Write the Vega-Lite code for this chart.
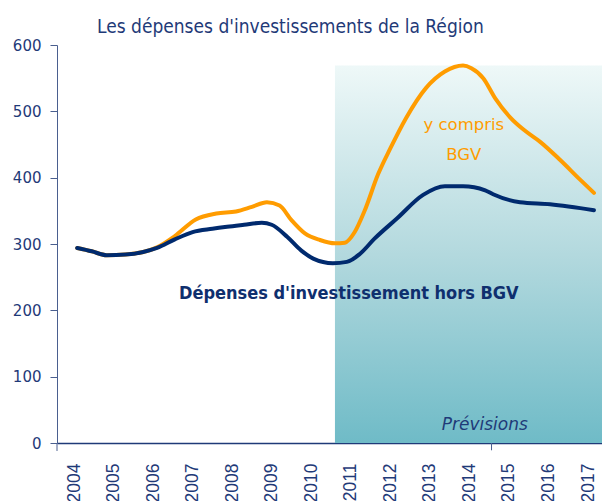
{
  "$schema": "https://vega.github.io/schema/vega-lite/v6.json",
  "width": 545,
  "height": 398,
  "autosize": "none",
  "padding": {"left": 57, "top": 45, "right": 0, "bottom": 58},
  "background": "white",
  "config": {"view": {"stroke": null}},
  "title": {
    "text": "Les dépenses d'investissements de la Région",
    "anchor": "start",
    "frame": "group",
    "dx": 40,
    "offset": 1,
    "font": "DejaVu Sans Condensed",
    "fontSize": 19,
    "fontWeight": "normal",
    "color": "#1f3a78"
  },
  "datasets": {
    "zone": [{"x": 2010.6, "x2": 2017.354, "y": 0, "y2": 569}],
    "marks": [
      {"x": 2014.56, "y": 0, "y2": -11},
      {"x": 2003.57, "y": 0, "y2": -12}
    ],
    "series": [
      {"annee": 2004.08, "v": 294, "serie": "y compris BGV"},
      {"annee": 2004.45, "v": 289, "serie": "y compris BGV"},
      {"annee": 2004.83, "v": 283, "serie": "y compris BGV"},
      {"annee": 2005.3, "v": 284, "serie": "y compris BGV"},
      {"annee": 2005.75, "v": 288, "serie": "y compris BGV"},
      {"annee": 2006.1, "v": 295, "serie": "y compris BGV"},
      {"annee": 2006.55, "v": 312, "serie": "y compris BGV"},
      {"annee": 2007.08, "v": 337, "serie": "y compris BGV"},
      {"annee": 2007.6, "v": 346, "serie": "y compris BGV"},
      {"annee": 2008.1, "v": 349, "serie": "y compris BGV"},
      {"annee": 2008.5, "v": 356, "serie": "y compris BGV"},
      {"annee": 2008.88, "v": 363, "serie": "y compris BGV"},
      {"annee": 2009.2, "v": 358, "serie": "y compris BGV"},
      {"annee": 2009.5, "v": 336, "serie": "y compris BGV"},
      {"annee": 2009.84, "v": 316, "serie": "y compris BGV"},
      {"annee": 2010.22, "v": 306, "serie": "y compris BGV"},
      {"annee": 2010.6, "v": 301, "serie": "y compris BGV"},
      {"annee": 2010.85, "v": 302, "serie": "y compris BGV"},
      {"annee": 2011.1, "v": 318, "serie": "y compris BGV"},
      {"annee": 2011.35, "v": 350, "serie": "y compris BGV"},
      {"annee": 2011.69, "v": 405, "serie": "y compris BGV"},
      {"annee": 2012.0, "v": 444, "serie": "y compris BGV"},
      {"annee": 2012.4, "v": 490, "serie": "y compris BGV"},
      {"annee": 2012.9, "v": 535, "serie": "y compris BGV"},
      {"annee": 2013.38, "v": 560, "serie": "y compris BGV"},
      {"annee": 2013.84, "v": 569, "serie": "y compris BGV"},
      {"annee": 2014.05, "v": 565, "serie": "y compris BGV"},
      {"annee": 2014.35, "v": 550, "serie": "y compris BGV"},
      {"annee": 2014.65, "v": 520, "serie": "y compris BGV"},
      {"annee": 2015.03, "v": 491, "serie": "y compris BGV"},
      {"annee": 2015.4, "v": 471, "serie": "y compris BGV"},
      {"annee": 2015.79, "v": 454, "serie": "y compris BGV"},
      {"annee": 2016.29, "v": 427, "serie": "y compris BGV"},
      {"annee": 2016.8, "v": 397, "serie": "y compris BGV"},
      {"annee": 2017.15, "v": 377, "serie": "y compris BGV"},
      {"annee": 2004.08, "v": 294, "serie": "hors BGV"},
      {"annee": 2004.45, "v": 289, "serie": "hors BGV"},
      {"annee": 2004.83, "v": 283, "serie": "hors BGV"},
      {"annee": 2005.3, "v": 284, "serie": "hors BGV"},
      {"annee": 2005.75, "v": 288, "serie": "hors BGV"},
      {"annee": 2006.1, "v": 294, "serie": "hors BGV"},
      {"annee": 2006.55, "v": 307, "serie": "hors BGV"},
      {"annee": 2007.0, "v": 318, "serie": "hors BGV"},
      {"annee": 2007.5, "v": 323, "serie": "hors BGV"},
      {"annee": 2007.87, "v": 326, "serie": "hors BGV"},
      {"annee": 2008.3, "v": 329, "serie": "hors BGV"},
      {"annee": 2008.75, "v": 332, "serie": "hors BGV"},
      {"annee": 2009.0, "v": 329, "serie": "hors BGV"},
      {"annee": 2009.39, "v": 311, "serie": "hors BGV"},
      {"annee": 2009.75, "v": 290, "serie": "hors BGV"},
      {"annee": 2010.05, "v": 278, "serie": "hors BGV"},
      {"annee": 2010.55, "v": 271, "serie": "hors BGV"},
      {"annee": 2010.9, "v": 273, "serie": "hors BGV"},
      {"annee": 2011.23, "v": 285, "serie": "hors BGV"},
      {"annee": 2011.6, "v": 308, "serie": "hors BGV"},
      {"annee": 2012.16, "v": 338, "serie": "hors BGV"},
      {"annee": 2012.83, "v": 374, "serie": "hors BGV"},
      {"annee": 2013.38, "v": 387, "serie": "hors BGV"},
      {"annee": 2013.84, "v": 387, "serie": "hors BGV"},
      {"annee": 2014.4, "v": 381, "serie": "hors BGV"},
      {"annee": 2014.6, "v": 375, "serie": "hors BGV"},
      {"annee": 2015.28, "v": 363, "serie": "hors BGV"},
      {"annee": 2016.04, "v": 360, "serie": "hors BGV"},
      {"annee": 2017.15, "v": 351, "serie": "hors BGV"}
    ],
    "orangeLabels": [
      {"x": 2013.86, "y": 479, "t": "y compris"},
      {"x": 2013.86, "y": 434, "t": "BGV"}
    ],
    "navyLabels": [
      {"x": 2010.95, "y": 225, "t": "Dépenses d'investissement hors BGV"}
    ],
    "prev": [{"x": 2014.39, "y": 27, "t": "Prévisions"}]
  },
  "layer": [
    {
      "data": {"name": "zone"},
      "mark": {
        "type": "rect",
        "fill": {
          "gradient": "linear",
          "x1": 0, "y1": 0, "x2": 0, "y2": 1,
          "stops": [
            {"offset": 0, "color": "#eef8f8"},
            {"offset": 0.5, "color": "#b3d9de"},
            {"offset": 1, "color": "#6fbbc7"}
          ]
        }
      },
      "encoding": {
        "x": {
          "field": "x", "type": "quantitative",
          "scale": {"domain": [2003.57, 2017.354], "nice": false, "zero": false},
          "axis": {
            "values": [2004, 2005, 2006, 2007, 2008, 2009, 2010, 2011, 2012, 2013, 2014, 2015, 2016, 2017],
            "format": "d",
            "title": null,
            "labelAngle": -90,
            "labelAlign": "right",
            "labelBaseline": "middle",
            "labelFont": "Liberation Sans",
            "labelFontSize": 17.5,
            "labelColor": "#1f3a78",
            "labelPadding": 20,
            "ticks": false,
            "grid": false,
            "domainColor": "#1f3a78",
            "domainWidth": 1.5
          }
        },
        "x2": {"field": "x2"},
        "y": {
          "field": "y", "type": "quantitative",
          "scale": {"domain": [0, 600], "nice": false},
          "axis": {
            "values": [0, 100, 200, 300, 400, 500, 600],
            "title": null,
            "labelFont": "DejaVu Sans",
            "labelFontSize": 15,
            "labelColor": "#1f3a78",
            "labelPadding": 9,
            "tickSize": 7,
            "tickColor": "#4a5f8f",
            "domainColor": "#4a5f8f",
            "grid": false
          }
        },
        "y2": {"field": "y2"}
      }
    },
    {
      "data": {"name": "marks"},
      "mark": {"type": "rule", "color": "#4a5f8f", "strokeWidth": 1},
      "encoding": {
        "x": {"field": "x", "type": "quantitative"},
        "y": {"field": "y", "type": "quantitative"},
        "y2": {"field": "y2"}
      }
    },
    {
      "data": {"name": "series"},
      "mark": {"type": "line", "interpolate": "monotone", "strokeWidth": 4, "strokeCap": "round"},
      "encoding": {
        "x": {"field": "annee", "type": "quantitative"},
        "y": {"field": "v", "type": "quantitative"},
        "color": {
          "field": "serie", "type": "nominal",
          "scale": {"domain": ["hors BGV", "y compris BGV"], "range": ["#002a6e", "#ff9c00"]},
          "legend": null
        },
        "order": {"field": "annee"}
      }
    },
    {
      "data": {"name": "orangeLabels"},
      "mark": {"type": "text", "font": "DejaVu Sans", "fontSize": 16.5, "align": "center", "baseline": "middle", "color": "#ff9c00"},
      "encoding": {
        "x": {"field": "x", "type": "quantitative"},
        "y": {"field": "y", "type": "quantitative"},
        "text": {"field": "t"}
      }
    },
    {
      "data": {"name": "navyLabels"},
      "mark": {"type": "text", "font": "DejaVu Sans Condensed", "fontSize": 18, "fontWeight": "bold", "align": "center", "baseline": "middle", "color": "#0f2f6e"},
      "encoding": {
        "x": {"field": "x", "type": "quantitative"},
        "y": {"field": "y", "type": "quantitative"},
        "text": {"field": "t"}
      }
    },
    {
      "data": {"name": "prev"},
      "mark": {"type": "text", "font": "DejaVu Sans", "fontSize": 17, "fontStyle": "italic", "align": "center", "baseline": "middle", "color": "#1f3a78"},
      "encoding": {
        "x": {"field": "x", "type": "quantitative"},
        "y": {"field": "y", "type": "quantitative"},
        "text": {"field": "t"}
      }
    }
  ]
}
